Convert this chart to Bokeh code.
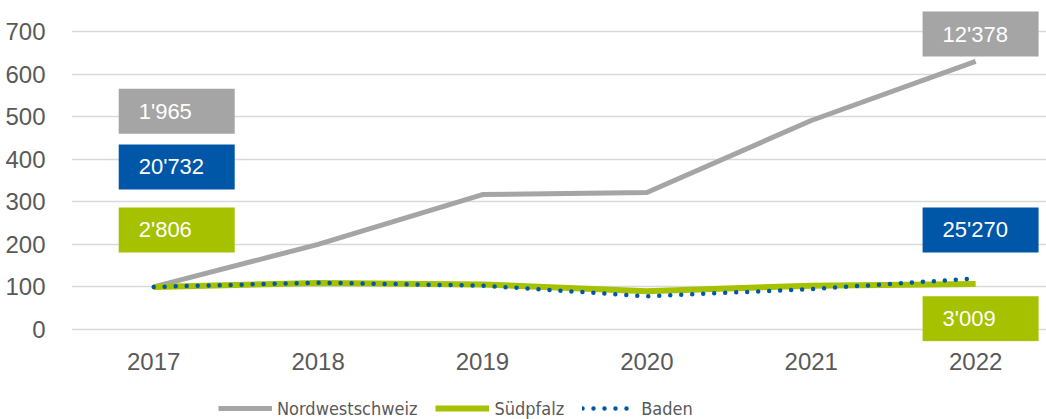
from bokeh.plotting import figure
from bokeh.layouts import column
from bokeh.models import ColumnDataSource, FixedTicker, Legend, LegendItem, Range1d
from bokeh.embed import file_html
from bokeh.resources import INLINE
from bokeh.core.properties import value

# ---- data ----
years = ["2017", "2018", "2019", "2020", "2021", "2022"]
nordwestschweiz = [100, 200, 317, 322, 491, 630]
suedpfalz = [100, 109, 106, 90, 103, 107]
baden = [100, 110, 103, 78, 95, 120]
y_ticks = [0, 100, 200, 300, 400, 500, 600, 700]

# absolute totals shown in boxes (first year / last year)
box_series = ["Nordwestschweiz", "Baden", "Südpfalz"]
start_totals = ["1'965", "20'732", "2'806"]
end_totals = ["12'378", "25'270", "3'009"]
legend_labels = ["Nordwestschweiz", "Südpfalz", "Baden"]

# ---- style ----
GREY = "#A5A5A5"
BLUE = "#0057A8"
GREEN = "#A5C100"
TXT = "#595959"
FONT = "Liberation Sans"
LEGEND_FONT = "'DejaVu Sans Condensed', 'Liberation Sans Narrow', Roboto"
colors = {"Nordwestschweiz": GREY, "Baden": BLUE, "Südpfalz": GREEN}
line_styles = {
    "Nordwestschweiz": dict(line_color=GREY, line_width=5),
    "Südpfalz": dict(line_color=GREEN, line_width=6),
    "Baden": dict(line_color=BLUE, line_width=4.5, line_dash="0 11", line_cap="round"),
}

# box layout (vertical centres in data units, x offsets in category units)
left_box_y = [513, 382, 234]
right_box_y = [694, 234, 25]
left_box_dx = 0.14
right_box_dx = 0.03
BOX_W, BOX_H = 116, 45

xs = list(range(len(years)))
series = {"Nordwestschweiz": nordwestschweiz, "Südpfalz": suedpfalz, "Baden": baden}

p = figure(width=1046, height=380, output_backend="svg", toolbar_location=None,
           x_range=Range1d(-0.5, 5.431), y_range=Range1d(-28.2, 751.8),
           min_border_left=71, min_border_right=0, min_border_top=9,
           min_border_bottom=39)
p.outline_line_color = None
p.background_fill_color = "white"
p.border_fill_color = "white"

# axes
p.xaxis.ticker = FixedTicker(ticks=xs)
p.xaxis.major_label_overrides = {i: y for i, y in enumerate(years)}
p.yaxis.ticker = FixedTicker(ticks=y_ticks)
for ax in (p.xaxis[0], p.yaxis[0]):
    ax.axis_line_color = None
    ax.major_tick_line_color = None
    ax.minor_tick_line_color = None
    ax.major_label_text_font = FONT
    ax.major_label_text_font_size = "24px"
    ax.major_label_text_color = TXT
p.yaxis.major_label_standoff = 20
p.xaxis.major_label_standoff = 5

p.xgrid.grid_line_color = None
p.ygrid.grid_line_color = "#D9D9D9"
p.ygrid.grid_line_width = 1.5
p.ygrid.ticker = FixedTicker(ticks=y_ticks)

src = ColumnDataSource(dict(x=xs, nw=nordwestschweiz, sp=suedpfalz, ba=baden))
p.line("x", "nw", source=src, **line_styles["Nordwestschweiz"])
p.line("x", "sp", source=src, **line_styles["Südpfalz"])
p.line("x", "ba", source=src, **line_styles["Baden"])

# boxes
bx = [xs[0] + left_box_dx] * 3 + [xs[-1] + right_box_dx] * 3
by = left_box_y + right_box_y
bc = [colors[s] for s in box_series] * 2
bt = start_totals + end_totals
bsrc = ColumnDataSource(dict(x=bx, y=by, c=bc, t=bt))
p.rect("x", "y", width=BOX_W, height=BOX_H, width_units="screen",
       height_units="screen", fill_color="c", line_color=None, source=bsrc)
p.text("x", "y", text="t", source=bsrc, x_offset=-BOX_W / 2 + 20,
       text_align="left", text_baseline="middle", text_color="white",
       text_font=value(FONT), text_font_size="22px")

# legend strip below the chart (same series, outside its visible range)
lg = figure(width=1046, height=39, output_backend="svg", toolbar_location=None,
            x_range=Range1d(-0.5, 5.431), y_range=Range1d(-10, -9),
            min_border=0, x_axis_type=None, y_axis_type=None)
lg.outline_line_color = None
lg.xgrid.visible = False
lg.ygrid.visible = False
lg.background_fill_color = "white"
lg.border_fill_color = "white"
items = []
for name in legend_labels:
    r = lg.line(xs, series[name], **line_styles[name])
    items.append(LegendItem(label=name, renderers=[r]))
legend = Legend(items=items, orientation="horizontal", location=(147, 0),
                background_fill_alpha=0, border_line_color=None,
                glyph_width=54, glyph_height=22, label_standoff=5,
                spacing=18, padding=0, margin=0,
                label_text_font=LEGEND_FONT,
                label_text_font_size="18px", label_text_color=TXT)
lg.add_layout(legend, "center")

layout = column(p, lg, spacing=0)
open("out.html", "w").write(file_html(layout, INLINE))
